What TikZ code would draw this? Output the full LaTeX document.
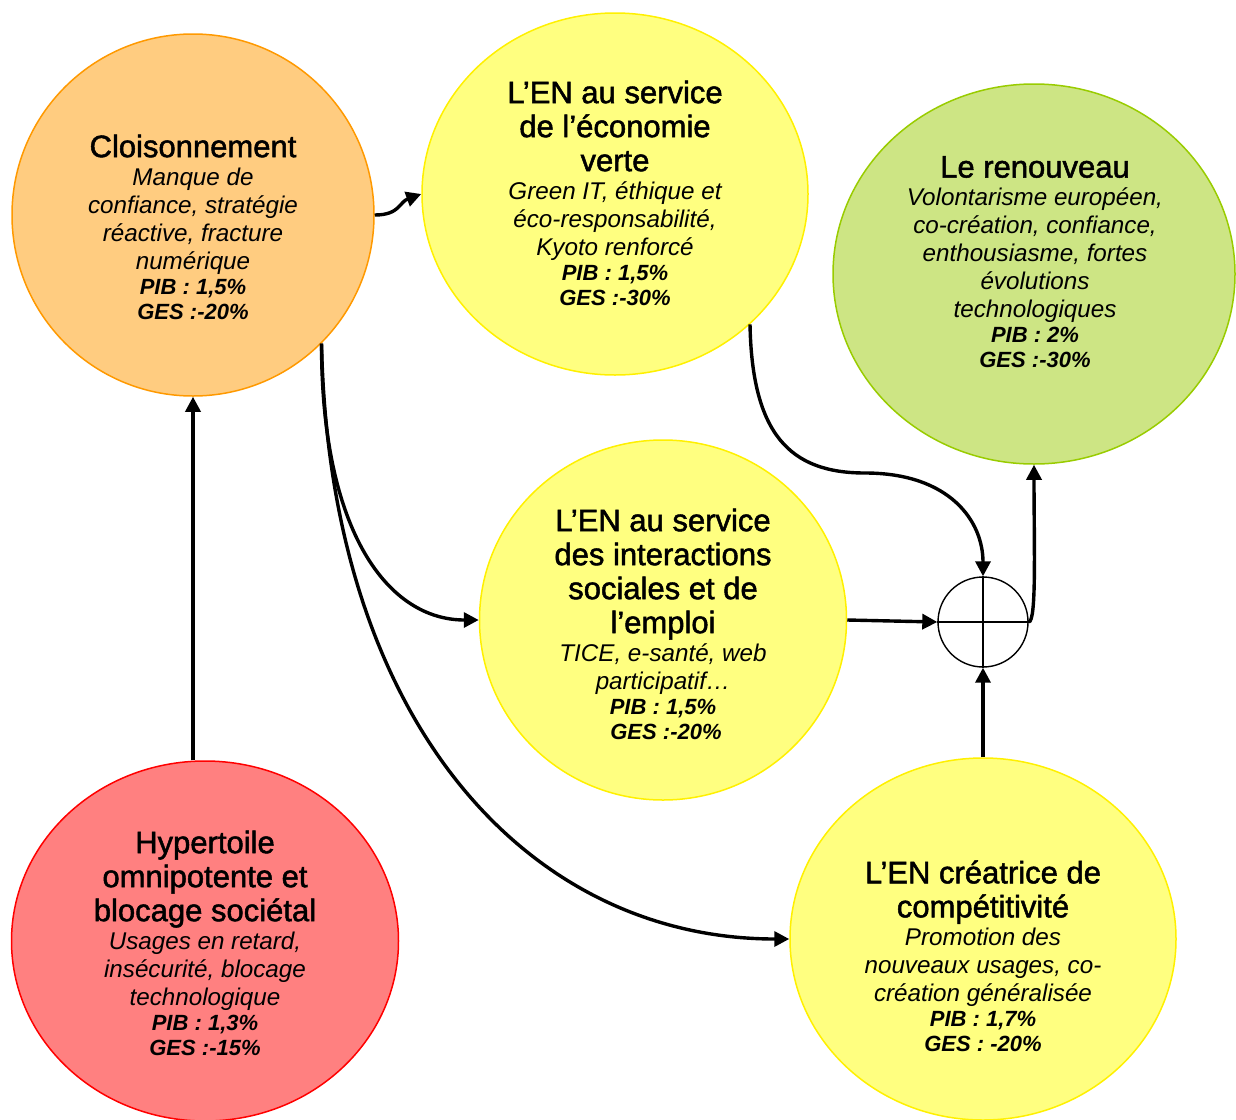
\documentclass[tikz,border=0pt]{standalone}
\usepackage{fontspec}
\setmainfont{Liberation Sans}
\newfontfamily\titlef[FakeBold=1.6]{Liberation Sans}
\usetikzlibrary{shapes.geometric,arrows.meta}
\definecolor{orfill}{HTML}{FFCC80}
\definecolor{ordraw}{HTML}{FF9900}
\definecolor{yefill}{HTML}{FFFF80}
\definecolor{yedraw}{HTML}{FFF000}
\definecolor{grfill}{HTML}{CDE584}
\definecolor{grdraw}{HTML}{99CC00}
\definecolor{rdfill}{HTML}{FF8080}
\definecolor{rddraw}{HTML}{FF0000}
\newcommand\nsk{\spaceskip=0pt\xspaceskip=0pt\relax}
\newcommand\TT{\titlef\fontsize{31}{34}\selectfont\nsk}
\newcommand\BB{\fontsize{24.2}{28}\selectfont\itshape\nsk}
\newcommand\PP{\fontsize{22}{25}\selectfont\bfseries\itshape\nsk}
\newcommand\blk[3]{\parindent=0pt\parskip=0pt\centering{\TT #1\par}{\BB #2\par}{\PP #3\par}}
\tikzset{
  bubble/.style={ellipse, draw, line width=1.5pt, inner sep=0pt},
  txt/.style={text width=420pt, inner sep=0pt},
  conn/.style={line width=3.4pt, -{Triangle[length=15pt,width=15pt]}},
}
\begin{document}
\begin{tikzpicture}[x=1pt,y=-1pt]
\useasboundingbox (0,0) rectangle (1236,1119);
% bubbles
\node[bubble, fill=orfill, draw=ordraw, minimum width=362pt, minimum height=362pt] (clo) at (193,215) {};
\node[bubble, fill=yefill, draw=yedraw, minimum width=386pt, minimum height=362pt] (ver) at (615,194) {};
\node[bubble, fill=grfill, draw=grdraw, minimum width=402pt, minimum height=380pt] (ren) at (1034,274) {};
\node[bubble, fill=yefill, draw=yedraw, minimum width=367pt, minimum height=360pt] (int) at (663,620) {};
\node[bubble, fill=rdfill, draw=rddraw, minimum width=387pt, minimum height=360pt] (hyp) at (205,941) {};
\node[bubble, fill=yefill, draw=yedraw, minimum width=386pt, minimum height=362pt] (com) at (983,939) {};
\node[circle, draw, line width=1.4pt, minimum size=90pt, inner sep=0pt] (sum) at (983,622) {};
\draw[line width=1.4pt] (sum.north) -- (sum.south) (sum.west) -- (sum.east);
% texts
\node[txt] (tclo) at (193,227) {\blk{Cloisonnement}{Manque de\\confiance, stratégie\\réactive, fracture\\numérique}{PIB : 1,5\%\\GES :-20\%}};
\node[txt] (tver) at (615,193) {\blk{L’EN au service\\de l’économie\\verte}{Green IT, éthique et\\éco-responsabilité,\\Kyoto renforcé}{PIB : 1,5\%\\GES :-30\%}};
\node[txt] (tren) at (1035,262) {\blk{Le renouveau}{Volontarisme européen,\\co-création, confiance,\\enthousiasme, fortes\\évolutions\\technologiques}{PIB : 2\%\\GES :-30\%}};
\node[txt] (tint) at (663,624) {\blk{L’EN au service\\des interactions\\sociales et de\\l’emploi}{TICE, e-santé, web\\participatif…}{PIB : 1,5\%\\\hspace*{6pt}GES :-20\%}};
\node[txt] (thyp) at (205,943) {\blk{Hypertoile\\omnipotente et\\blocage sociétal}{Usages en retard,\\insécurité, blocage\\technologique}{PIB : 1,3\%\\GES :-15\%}};
\node[txt] (tcom) at (983,956) {\blk{L’EN créatrice de\\compétitivité}{Promotion des\\nouveaux usages, co-\\création généralisée}{PIB : 1,7\%\\GES : -20\%}};
% connectors
\coordinate (vmid) at (865,473);
\draw[conn] (clo.south |- hyp.north) -- (clo.south);
\draw[conn] (clo.east) .. controls +(25,0) and +(-22,8) .. (ver.west);
\draw[conn] (clo.-45) .. controls +(0,190) and +(-90,0) .. (int.west);
\draw[conn] (clo.-45) .. controls +(8,380) and +(-260,0) .. (com.west);
\draw[conn] (ver.-44) .. controls +(2,110) and +(-75,0) .. (vmid) .. controls +(85,0) and +(0,-55) .. (sum.north);
\draw[conn] (int.east) -- (sum.west);
\draw[conn] (com.north) -- (sum.south);
\draw[conn] (sum.east) .. controls +(8,0) and +(0,80) .. (ren.south);
\end{tikzpicture}
\end{document}
